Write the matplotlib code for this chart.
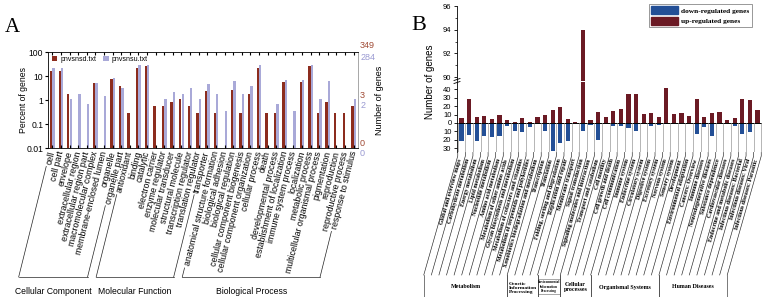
import numpy as np
import matplotlib.pyplot as plt
from matplotlib.patches import Patch, Rectangle
from matplotlib.lines import Line2D

plt.rcParams['font.family'] = ['Liberation Sans', 'DejaVu Sans']

# ---- panel A: GO classification (gene counts per term) ----
go_terms = ['cell', 'cell part', 'envelope', 'extracellular region',
            'extracellular region part', 'macromolecular complex',
            'membrane-enclosed lumen', 'organelle', 'organelle part',
            'antioxidant', 'binding', 'catalytic', 'electron carrier',
            'enzyme regulator', 'molecular transducer', 'structural molecule',
            'transcription regulator', 'translation regulator', 'transporter',
            'anatomical structure formation', 'biological adhesion',
            'biological regulation', 'cellular component biogenesis',
            'cellular component organization', 'cellular process', 'death',
            'developmental process', 'establishment of localization',
            'immune system process', 'localization', 'metabolic process',
            'multicellular organismal process', 'pigmentation', 'reproduction',
            'reproductive process', 'response to stimulus']
go_groups = ['Cellular Component', 'Molecular Function', 'Biological Process']
go_group_sizes = [9, 10, 17]
series_names = ['pnvsnsd.txt', 'pnvsnsu.txt']
total_d, total_u = 349, 284
count_d = [56, 56, 6, 0, 0, 18, 0, 27, 13, 1, 77, 91, 2, 2, 3, 4, 2, 1, 8,
           1, 0, 9, 1, 6, 75, 1, 1, 20, 0, 20, 95, 1, 3, 1, 1, 2]
count_u = [60, 60, 3, 5, 2, 14, 4, 24, 9, 0, 85, 85, 0, 3, 6, 5, 9, 3, 13,
           5, 1, 18, 5, 11, 85, 0, 2, 20, 1, 20, 80, 3, 17, 0, 0, 3]

# ---- panel B: KEGG pathway classes (number of genes) ----
kegg_terms = ['Global and overview maps', 'Carbohydrate metabolism',
              'Energy metabolism', 'Lipid metabolism', 'Nucleotide metabolism',
              'Amino acid metabolism', 'Metabolism of other amino acids',
              'Glycan biosynthesis and metabolism',
              'Metabolism of cofactors and vitamins',
              'Metabolism of terpenoids and polyketides',
              'Xenobiotics biodegradation and metabolism',
              'Transcription', 'Translation', 'Folding, sorting and degradation',
              'Replication and repair', 'Membrane transport',
              'Signal transduction', 'Signaling molecules and interaction',
              'Transport and catabolism', 'Cell motility',
              'Cell growth and death', 'Cell communication', 'Immune system',
              'Endocrine system', 'Circulatory system', 'Digestive system',
              'Excretory system', 'Nervous system', 'Sensory system',
              'Development', 'Environmental adaptation', 'Cancers: Overview',
              'Immune diseases', 'Neurodegenerative diseases',
              'Substance dependence', 'Cardiovascular diseases',
              'Endocrine and metabolic diseases',
              'Infectious diseases: Bacterial', 'Infectious diseases: Viral',
              'Infectious diseases: Parasitic']
kegg_groups = ['Metabolism', 'Genetic\nInformation\nProcessing',
               'Environmental\nInformation\nProcessing',
               'Cellular\nprocesses', 'Organismal Systems', 'Human Diseases']
kegg_group_sizes = [11, 4, 3, 4, 9, 9]
kegg_up = [6, 29, 7, 8, 5, 9, 4, 1, 6, 1, 7, 10, 15, 19, 5, 1, 94, 3, 13, 7,
           14, 17, 35, 34, 11, 12, 7, 42, 11, 12, 8, 28, 7, 12, 13, 4, 6, 29,
           27, 15]
kegg_down = [21, 14, 21, 16, 17, 15, 4, 10, 11, 5, 0, 10, 33, 24, 21, 0, 10,
             2, 20, 0, 3, 4, 6, 9, 0, 4, 2, 1, 0, 0, 0, 13, 5, 16, 0, 0, 3, 13,
             11, 0]

c_d, c_u = '#8c2c1e', '#a9a9d8'
c_up, c_down = '#6b1a24', '#234f96'

W, H = 763, 297
fig = plt.figure(figsize=(W / 100, H / 100), dpi=100)


def fpt(x, y):
    # pixel (top-left origin) -> figure fraction
    return x / W, 1 - y / H


def line_px(xs, ys, **kw):
    fx = [x / W for x in xs]
    fy = [1 - y / H for y in ys]
    fig.add_artist(Line2D(fx, fy, transform=fig.transFigure, **kw))


# ================= panel A =================
axA = fig.add_axes([48 / W, 1 - 148 / H, 310 / W, 96 / H])
axA.set_yscale('log')
x = np.arange(len(go_terms))
pct_d = np.array(count_d) / total_d * 100
pct_u = np.array(count_u) / total_u * 100
axA.bar(x - 0.14, pct_d, width=0.27, color=c_d, label=series_names[0])
axA.bar(x + 0.14, pct_u, width=0.27, color=c_u, label=series_names[1])
axA.set_xlim(-0.5, len(go_terms) - 0.5)
axA.set_ylim(0.01, 100)
axA.set_yticks([0.01, 0.1, 1, 10, 100])
axA.set_yticklabels(['0.01', '0.1', '1', '10', '100'])
axA.yaxis.set_minor_locator(plt.NullLocator())
axA.tick_params(axis='y', labelsize=6.2, length=2, pad=1.5, direction='out')
a_rot = 76
axA.set_xticks(x)
axA.set_xticklabels(go_terms, rotation=a_rot, ha='right', va='center',
                    rotation_mode='anchor', fontsize=6.3)
axA.tick_params(axis='x', direction='in', length=2, top=True, pad=2.5)
axA.spines['right'].set_color('#999999')
for s in ['top', 'left', 'bottom', 'right']:
    axA.spines[s].set_linewidth(0.6)
axA.legend(ncol=2, loc='upper left', frameon=False, fontsize=5,
           handlelength=0.8, handleheight=0.8, handletextpad=0.4,
           columnspacing=1.0, borderaxespad=0.15)

# right-hand "number of genes" labels
tr = axA.get_yaxis_transform()
for yv, dy_d, dy_u in [(100, 5, -4), (1, 3, -4), (0.01, 3, -4)]:
    axA.annotate(str(int(total_d * yv / 100)), (1, yv), xycoords=tr,
                 xytext=(1.5, dy_d), textcoords='offset points',
                 color='#a04a34', fontsize=6.5, va='center', ha='left')
    axA.annotate(str(int(total_u * yv / 100)), (1, yv), xycoords=tr,
                 xytext=(1.5, dy_u), textcoords='offset points',
                 color='#9a9ad2', fontsize=6.5, va='center', ha='left')
fig.text(*fpt(380, 100), 'Number of genes', rotation=90, fontsize=6.5,
         ha='center', va='center')
fig.text(*fpt(24, 100), 'Percent of genes', rotation=90, fontsize=6.2,
         ha='center', va='center')
fig.text(*fpt(12, 28), 'A', family='Liberation Serif', fontsize=15,
         ha='center', va='center')

# ================= panel B =================
xb = np.arange(len(kegg_terms))
xl = (-0.6, len(kegg_terms) - 0.4)
axT = fig.add_axes([457 / W, 1 - 80.6 / H, 305 / W, 74.6 / H])
axL = fig.add_axes([457 / W, 1 - 152.4 / H, 305 / W, 70.4 / H])
for ax in (axT, axL):
    ax.bar(xb, kegg_up, width=0.55, color=c_up)
    ax.set_xlim(*xl)
    for s in ['top', 'right', 'bottom']:
        ax.spines[s].set_visible(False)
    ax.spines['left'].set_linewidth(0.6)
    ax.set_xticks([])
    ax.tick_params(axis='y', labelsize=5.5, length=2.5, width=0.6, pad=1.5)
axL.bar(xb, -np.array(kegg_down), width=0.55, color=c_down)
axT.set_ylim(89.7, 96)
axT.set_yticks([90, 92, 94, 96])
axT.set_yticks([91, 93, 95], minor=True)
axT.tick_params(axis='y', which='minor', length=1.5, width=0.5)
axL.set_ylim(-35, 48.8)
yt = np.arange(-30, 41, 10)
axL.set_yticks(yt)
axL.set_yticklabels([str(abs(v)) for v in yt])
axL.axhline(0, color='black', lw=0.7)
axL.vlines(np.arange(len(kegg_terms) + 1) - 0.5, -35, 0, color='#b5b5b5',
           lw=0.7)
fig.text(*fpt(430, 82), 'Number of genes', rotation=90, fontsize=7,
         ha='center', va='center')
fig.text(*fpt(419, 26), 'B', family='Liberation Serif', fontsize=16,
         ha='center', va='center')
# axis break marks
line_px([454, 460], [80.5, 78.5], color='black', lw=0.6)
line_px([454, 460], [83.5, 81.5], color='black', lw=0.6)

leg = fig.legend(handles=[Patch(color=c_down), Patch(color=c_up)],
                 labels=['down-regulated genes', 'up-regulated genes'],
                 loc='upper right', bbox_to_anchor=fpt(756, 0),
                 prop=dict(family='Liberation Serif', weight='bold', size=5.3),
                 handlelength=3.6, handleheight=1.3, borderpad=0.35,
                 labelspacing=0.35, handletextpad=0.5, fancybox=False,
                 edgecolor='#888888', framealpha=1)
leg.get_frame().set_linewidth(0.6)

# ---- leader lines and labels below panel B ----
fig.canvas.draw()
y_top, y_kink, y_base = 152.4, 156, 275
shift = 34.0
ang = np.degrees(np.arctan2(y_base - y_kink, shift))
bnd_px = [axL.transData.transform((b, 0))[0] for b in
          np.arange(len(kegg_terms) + 1) - 0.5]
for bp in bnd_px:
    line_px([bp, bp, bp - shift], [y_top, y_kink, y_base], color='#222222',
            lw=0.45)
for i, name in enumerate(kegg_terms):
    cp = axL.transData.transform((i, 0))[0]
    ty = 159
    tx = cp - (ty - y_kink) * shift / (y_base - y_kink)
    fig.text(*fpt(tx, ty), name, rotation=ang, rotation_mode='anchor',
             ha='right', va='center', family='Liberation Serif',
             weight='bold', fontsize=4.3)
edges = np.concatenate([[0], np.cumsum(kegg_group_sizes)])
for k, name in enumerate(kegg_groups):
    x0 = bnd_px[edges[k]] - shift
    x1 = bnd_px[edges[k + 1]] - shift
    line_px([x0, x0], [y_base, 297], color='#444444', lw=0.5)
    line_px([x1, x1], [y_base, 297], color='#444444', lw=0.5)
    if k == 1:
        fig.text(*fpt(x0 + 2, 288), name, ha='left', va='center',
                 family='Liberation Serif', weight='bold', fontsize=3.9,
                 linespacing=1.15)
    elif k == 2:
        fig.add_artist(Rectangle(fpt(x0, 294), (x1 - x0) / W, 15 / H,
                                 transform=fig.transFigure, fill=False,
                                 lw=0.4, ec='#666666'))
        fig.text(*fpt((x0 + x1) / 2, 286.5), name, ha='center', va='center',
                 family='Liberation Serif', weight='bold', fontsize=2.4,
                 linespacing=1.3)
    else:
        fig.text(*fpt((x0 + x1) / 2, 287), name, ha='center', va='center',
                 family='Liberation Serif', weight='bold', fontsize=4.3,
                 linespacing=1.2)

# ---- group brackets below panel A ----
renderer = fig.canvas.get_renderer()
labels = axA.get_xticklabels()
a_base, a_txt = 277, 292
tan_a = np.tan(np.radians(a_rot))
gedges = np.concatenate([[0], np.cumsum(go_group_sizes)])
for k, name in enumerate(go_groups):
    ends = []
    for idx in (gedges[k], gedges[k + 1] - 1):
        bb = labels[idx].get_window_extent(renderer)
        sx, sy = bb.x0 + 1.5, H - bb.y0 + 1
        bx = sx - (a_base - sy) / tan_a
        line_px([sx, bx], [sy, a_base], color='#222222', lw=0.5)
        ends.append(bx)
    line_px(ends, [a_base, a_base], color='#222222', lw=0.5)
    fig.text(*fpt((ends[0] + ends[1]) / 2, a_txt), name, ha='center',
             va='center', fontsize=6.2)

fig.savefig('out.png', dpi=100)
